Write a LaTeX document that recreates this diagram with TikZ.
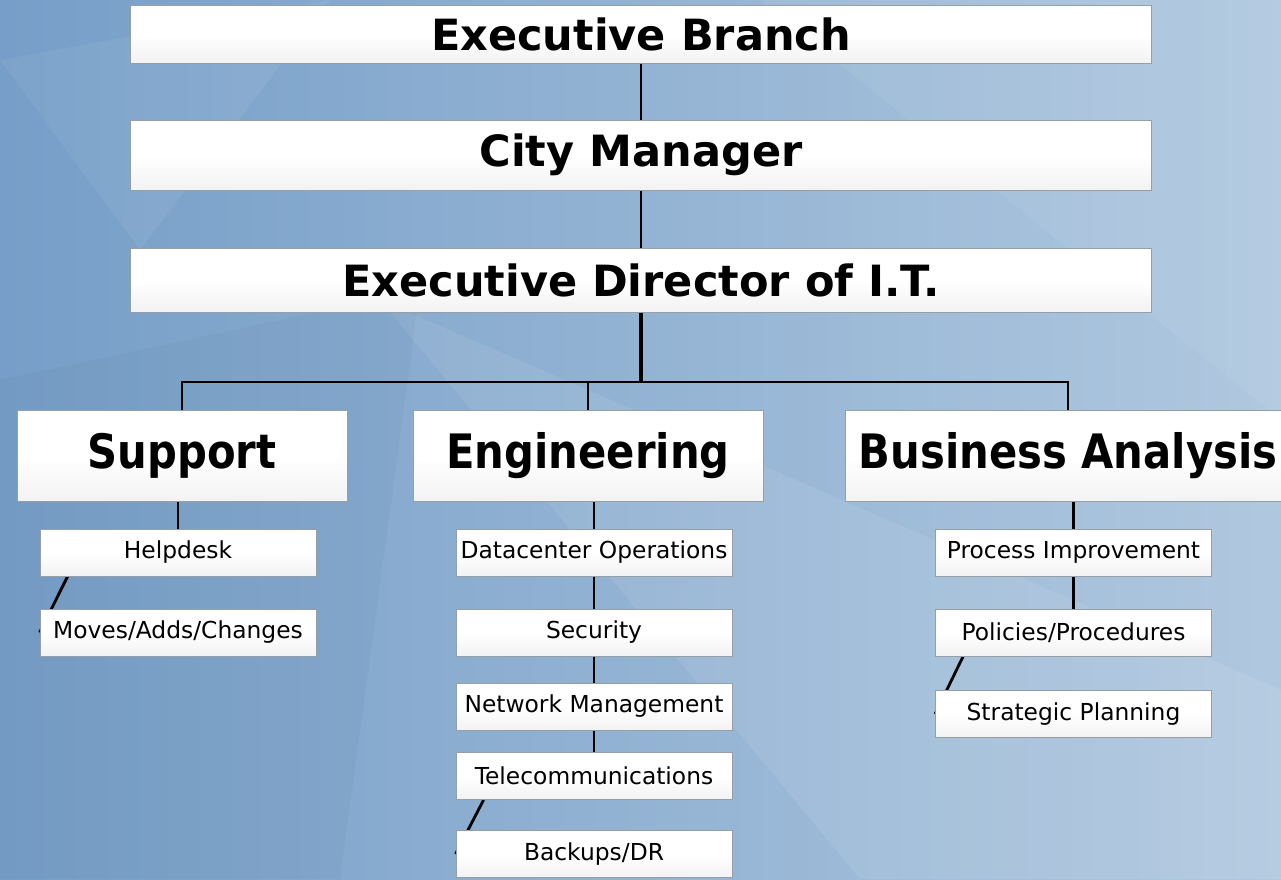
\documentclass[tikz,border=0pt]{standalone}
\usepackage{fontspec}
\setmainfont{DejaVu Sans}
\newfontfamily\narrowsans{DejaVu Sans}[FakeStretch=0.88]
\usetikzlibrary{calc,backgrounds}
\pgfdeclarelayer{edges}
\pgfsetlayers{background,edges,main}
\definecolor{bgdark}{RGB}{118,158,200}
\definecolor{bglight}{RGB}{176,200,223}
\definecolor{boxline}{RGB}{150,158,168}
\pgfdeclareverticalshading{boxshade}{100bp}{color(0bp)=(black!15); color(25bp)=(black!5); color(50bp)=(white); color(100bp)=(white)}

\begin{document}
\begin{tikzpicture}[x=0.02cm,y=-0.02cm,
	box/.style={draw=boxline,line width=0.5pt,shading=boxshade,inner sep=0pt,align=center},
	head/.style={box,minimum width=20.42cm,font=\fontsize{24.5}{30}\selectfont\bfseries},
	unit/.style={box,minimum height=1.82cm,font=\narrowsans\fontsize{27}{32}\selectfont\bfseries},
	team/.style={box,minimum width=5.52cm,minimum height=0.94cm,font=\fontsize{13.3}{16}\selectfont},
	link/.style={line width=1.6pt,black}]
	\def\off{28}
	\useasboundingbox (0,0) rectangle (1281,879);
	\clip (0,0) rectangle (1281,879);
	% top of the chart
	\node[head,minimum height=1.16cm] (eb) at (641,34) {Executive Branch};
	\node[head,minimum height=1.4cm] (cm) at (641,155) {City Manager};
	\node[head,minimum height=1.28cm] (ed) at (641,280) {Executive Director of I.T.};
	\coordinate (bus) at (641,382);
	\node[unit,minimum width=6.6cm] (sup) at (182,456) {Support};
	\node[unit,minimum width=7cm] (eng) at (588,455.5) {Engineering};
	\node[unit,minimum width=8.92cm] (ba) at (1068,456) {Business Analysis};
	% support
	\node[team] (hd) at (178,552.5) {Helpdesk};
	\node[team] (mac) at (178,632.5) {Moves/Adds/Changes};
	% engineering
	\node[team] (dco) at (594,552.5) {Datacenter Operations};
	\node[team] (sec) at (594,632.5) {Security};
	\node[team] (net) at (594,706.5) {Network Management};
	\node[team] (tel) at (594,776) {Telecommunications};
	\node[team] (bdr) at (594,854) {Backups/DR};
	% business analysis
	\node[team] (pi) at (1073.5,552.5) {Process Improvement};
	\node[team] (pp) at (1073.5,632.5) {Policies/Procedures};
	\node[team] (sp) at (1073.5,714) {Strategic Planning};
	\begin{pgfonlayer}{edges}
		\draw[link] (eb.south) -- (cm.north);
		\draw[link] (cm.south) -- (ed.north);
		\draw[link,line width=2.2pt] (ed.south) -- (bus);
		\draw[link] (sup.north) |- (bus) -| (ba.north);
		\draw[link] (eng.north) |- (bus);
		\draw[link] (hd.north) -- (hd.north |- sup.south);
		\draw[link] ($(hd.south west)+(\off,0)$) -- (mac.west);
		\draw[link] (dco.north) -- (dco.north |- eng.south);
		\draw[link] (dco.south) -- (sec.north);
		\draw[link] (sec.south) -- (net.north);
		\draw[link] (net.south) -- (tel.north);
		\draw[link] ($(tel.south west)+(\off,0)$) -- (bdr.west);
		\draw[link] (pi.north) -- (pi.north |- ba.south);
		\draw[link] (pi.south) -- (pp.north);
		\draw[link] ($(pp.south west)+(\off,0)$) -- (sp.west);
	\end{pgfonlayer}
	\begin{scope}[on background layer]
		\shade[left color=bgdark,right color=bglight] (0,0) rectangle (1281,879);
		\fill[bgdark!80!black,opacity=0.1] (0,380) -- (420,290) -- (340,879) -- (0,879) -- cycle;
		\fill[white,opacity=0.08] (380,300) -- (860,879) -- (1281,879) -- (1281,690) -- cycle;
		\fill[white,opacity=0.06] (760,0) -- (1281,0) -- (1281,420) -- cycle;
		\fill[white,opacity=0.06] (0,60) -- (330,0) -- (140,250) -- cycle;
	\end{scope}
\end{tikzpicture}
\end{document}
